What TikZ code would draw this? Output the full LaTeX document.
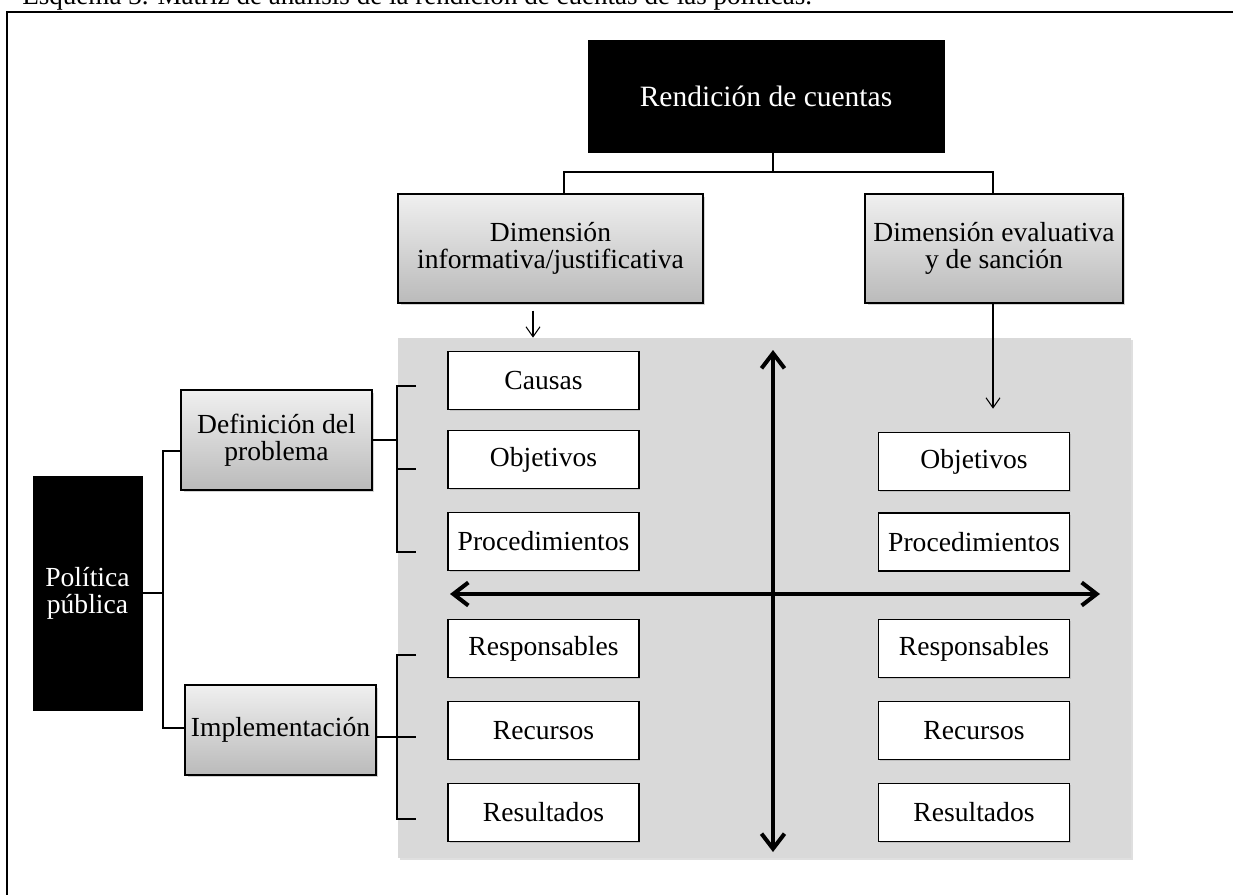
\documentclass[tikz,border=0pt]{standalone}
\usepackage{fontspec}
\setmainfont{Liberation Serif}
\usetikzlibrary{arrows.meta,shadows}

\newcommand{\mainsize}{\fontsize{15.7}{15.4}\selectfont}
\newcommand{\bigsize}{\fontsize{16.8}{17}\selectfont}
\newcommand{\capsize}{\fontsize{15.4}{17}\selectfont}

\tikzset{
  blackbox/.style={draw=black,fill=black,text=white,inner sep=0pt,align=center,font=\mainsize},
  dimbox/.style={draw=black,line width=0.8pt,top color=black!6,bottom color=black!27,inner sep=0pt,align=center,font=\mainsize,
    drop shadow={shadow xshift=0.05cm,shadow yshift=-0.05cm,opacity=0.35}},
  itembox/.style={draw=black,line width=0.8pt,fill=white,inner sep=0pt,minimum width=3.82cm,minimum height=1.16cm,font=\mainsize,
    drop shadow={shadow xshift=0.03cm,shadow yshift=-0.03cm,opacity=0.3}},
  conn/.style={line width=1.1pt},
  thinarrow/.style={line width=0.6pt,-{Straight Barb[length=0.2cm,width=0.28cm]}},
  axis/.style={line width=2.3pt,{Straight Barb[length=0.3cm,width=0.46cm]}-{Straight Barb[length=0.3cm,width=0.46cm]}}
}

\begin{document}
\begin{tikzpicture}[x=0.02cm,y=-0.02cm]

\useasboundingbox (0,0) rectangle (1233,895);
\clip (0,0) rectangle (1233,895);

\node[anchor=base west,inner sep=0pt,font=\capsize] (caption) at (22,5)
  {Esquema 3. Matriz de análisis de la rendición de cuentas de las políticas.};
\draw[line width=1.7pt] (7,1000) -- (7,12) -- (1300,12);

\path[fill=black!15,drop shadow={shadow xshift=0.03cm,shadow yshift=-0.03cm,opacity=0.25}] (398,338) rectangle (1131,858);

\node[blackbox,font=\bigsize,minimum width=7.12cm,minimum height=2.24cm] (rend) at (766,96) {Rendición de cuentas};
\node[dimbox,minimum width=6.1cm,minimum height=2.18cm] (info) at (550.5,248.5) {Dimensión\\informativa/justificativa};
\node[dimbox,minimum width=5.16cm,minimum height=2.18cm] (eval) at (994,248.5) {Dimensión evaluativa\\y de sanción};

\node[blackbox,minimum width=2.18cm,minimum height=4.68cm] (poli) at (87.5,593) {Política\\pública};
\node[dimbox,minimum width=3.82cm,minimum height=2cm] (defi) at (276.5,440) {Definición del\\problema};
\node[dimbox,minimum width=3.82cm,minimum height=1.8cm] (impl) at (280.5,730) {Implementación};

\foreach \txt/\yy [count=\k] in {Causas/380.5,Objetivos/459.5,Procedimientos/541.5,Responsables/648.5,Recursos/730.5,Resultados/812.5}
{
\node[itembox] (lc\k) at (543.5,\yy) {\txt};
}

\foreach \txt/\yy [count=\k] in {Objetivos/461.5,Procedimientos/542,Responsables/648.5,Recursos/730.5,Resultados/812.5}
{
\node[itembox] (rc\k) at (974,\yy) {\txt};
}

\coordinate (hub) at (773,172);
\coordinate (hl) at (564,172);
\coordinate (hr) at (993,172);
\draw[conn] (rend.south -| hub) -- (hub);
\draw[conn] (info.north -| hl) -- (hl) -- (hr) -- (eval.north -| hr);

\draw[thinarrow] ([xshift=-0.35cm,yshift=-0.14cm]info.south) -- ++(0,27);
\draw[thinarrow] (eval.south -| hr) -- ++(0,105);

\coordinate (pj) at (163,593);
\coordinate (pdef) at (163,451);
\coordinate (pimp) at (163,728);
\draw[conn] (poli.east) -- (pj);
\draw[conn] (pdef -| defi.west) -- (pdef) -- (pimp) -- (pimp -| impl.west);

\coordinate (dj) at (397,440);
\foreach \y [count=\k] in {386,469,552}
  \coordinate (dt\k) at (416,\y);
\draw[conn] (defi.east) -- (dj);
\draw[conn] (dt1) -| (dj |- dt3) -- (dt3);
\draw[conn] (dj |- dt2) -- (dt2);

\coordinate (ij) at (397,737);
\foreach \y [count=\k] in {655,737,819}
  \coordinate (it\k) at (416,\y);
\draw[conn] (impl.east |- ij) -- (ij);
\draw[conn] (it1) -| (ij |- it3) -- (it3);
\draw[conn] (ij) -- (it2);

\coordinate (axn) at (773,350);
\coordinate (axs) at (773,852);
\coordinate (axw) at (450,594);
\coordinate (axe) at (1100,594);
\draw[axis] (axn) -- (axs);
\draw[axis] (axw) -- (axe);

\end{tikzpicture}
\end{document}
